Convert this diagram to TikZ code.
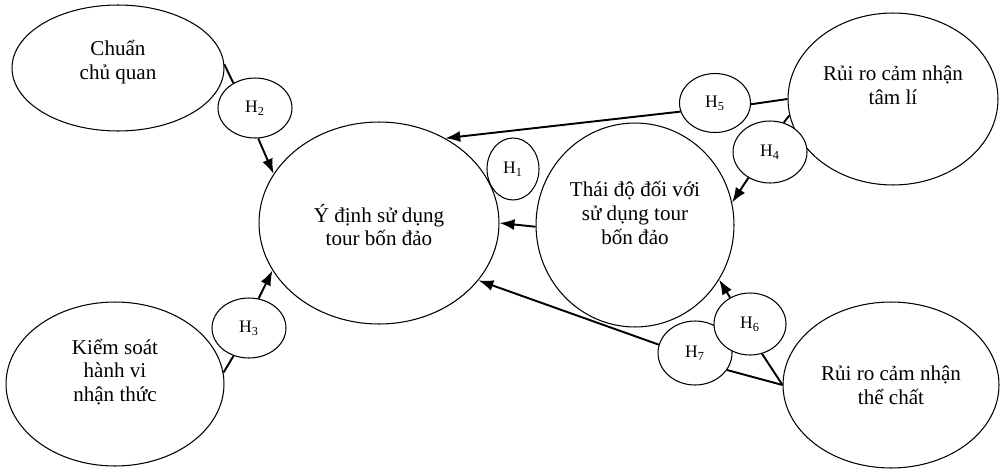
\documentclass[tikz,border=0pt]{standalone}
\usepackage{fontspec}
\setmainfont{Liberation Serif}
\usetikzlibrary{shapes.geometric,arrows.meta}
\begin{document}
\begin{tikzpicture}[x=0.02cm,y=-0.02cm,
  ell/.style={draw,ellipse,inner sep=0pt,line width=0.6pt},
  big/.style={ell,font=\fontsize{12}{13.6}\selectfont},
  hyp/.style={ell,fill=white,font=\fontsize{10}{12}\selectfont},
  lbl/.style={align=center,font=\fontsize{12}{13.6}\selectfont},
  link/.style={line width=1.1pt},
  arr/.style={line width=1.1pt,-{Latex[length=0.3cm,width=0.22cm]}}]
\useasboundingbox (0,0) rectangle (1000,470);
% big constructs
\node[big,minimum width=4.24cm,minimum height=2.52cm,label={[lbl,yshift=0.12cm]center:Chuẩn\\chủ quan}] (cq) at (118,68) {};
\node[big,minimum width=4.36cm,minimum height=3.28cm,label={[lbl,yshift=0.24cm]center:Kiểm soát\\hành vi\\nhận thức}] (ks) at (115,384) {};
\node[big,minimum width=4.8cm,minimum height=4.04cm,label={[lbl,yshift=-0.04cm]center:Ý định sử dụng\\tour bốn đảo}] (yd) at (379,223) {};
\node[big,minimum width=3.96cm,minimum height=4.08cm,label={[lbl,yshift=0.24cm]center:Thái độ đối với\\sử dụng tour\\bốn đảo}] (td) at (635,225) {};
\node[big,minimum width=4.2cm,minimum height=3.44cm,label={[lbl,yshift=0.28cm]center:Rủi ro cảm nhận\\tâm lí}] (tl) at (893,99) {};
\node[big,minimum width=4.32cm,minimum height=3.32cm,label={[lbl]center:Rủi ro cảm nhận\\thể chất}] (tc) at (891,385) {};
% hypotheses
\node[hyp,minimum width=1.04cm,minimum height=1.24cm] (h1) at (513,169) {H\textsubscript{1}};
\node[hyp,minimum width=1.48cm,minimum height=1.2cm] (h2) at (255,108) {H\textsubscript{2}};
\node[hyp,minimum width=1.48cm,minimum height=1.2cm] (h3) at (249,328) {H\textsubscript{3}};
\node[hyp,minimum width=1.48cm,minimum height=1.24cm] (h4) at (770,152) {H\textsubscript{4}};
\node[hyp,minimum width=1.42cm,minimum height=1.18cm] (h5) at (715,103) {H\textsubscript{5}};
\node[hyp,minimum width=1.48cm,minimum height=1.28cm] (h7) at (695,353) {H\textsubscript{7}};
\node[hyp,minimum width=1.44cm,minimum height=1.24cm] (h6) at (750,324) {H\textsubscript{6}};
% connectors
\draw[link] (cq.2) -- (h2.131);
\draw[arr] (h2.276) -- (yd.155);
\draw[link] (ks.6) -- (h3.241);
\draw[arr] (h3.72) -- (yd.204);
\draw[link] (tl.180) -- (h5.358);
\draw[arr] (h5.194) -- (yd.52);
\draw[link] (tl.189) -- (h4.65);
\draw[arr] (h4.230) -- (td.13);
\draw[arr] (td.181) -- (yd.0);
\draw[link] (tc.180) -- (h6.292);
\draw[link] (tc.180) -- (h7.332);
\draw[arr] (h6.127) -- (td.327);
\draw[arr] (h7.167) -- (yd.330);
\end{tikzpicture}
\end{document}
